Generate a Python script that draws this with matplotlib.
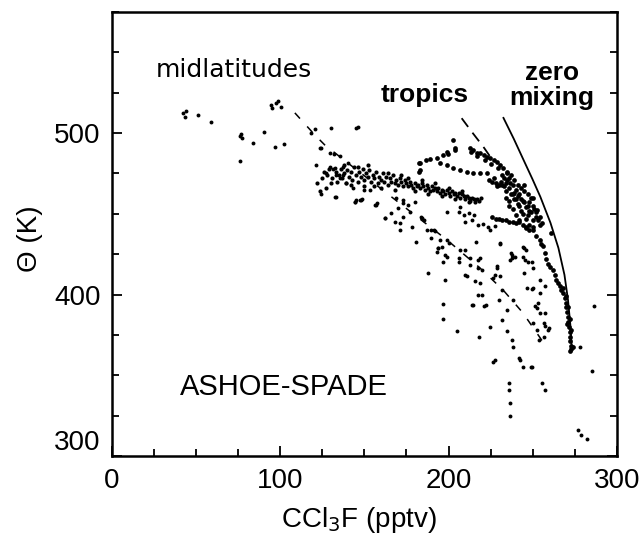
import matplotlib
matplotlib.use("Agg")
from matplotlib import pyplot as plt
from matplotlib.ticker import MultipleLocator

SANS = ['Liberation Sans', 'DejaVu Sans']

# zero mixing curve (solid)
zm_x = [232.6, 238.7, 244.5, 249.8, 254.5, 260.5, 265.2, 268.8, 270.9, 272.4, 273.2]
zm_y = [509.4, 496.5, 483.4, 471.5, 460.5, 444.4, 428.9, 412.2, 396.7, 380.0, 365.8]

# tropics reference (dashed)
tr_x = [207.8, 214.0, 220.6, 226.0]
tr_y = [509.2, 500.5, 491.6, 483.5]

# midlatitude reference (dashed)
ml_x = [108.8, 120.6, 126.5, 140.2, 160.0, 177.3, 199.0, 218.6, 232.3, 244.1, 257.2]
ml_y = [512.5, 498.9, 492.7, 481.5, 465.5, 451.4, 433.9, 416.5, 402.9, 388.7, 368.9]

# sparse midlatitude points, upper left
mid_x = [42.4, 43.4, 44.0, 51.3, 59.2, 76.5, 77.5, 77.0, 76.0, 83.9, 90.5, 96.8, 102.2,
         94.9, 97.8, 100.8, 95.5, 99.0, 121.0, 130.1, 145.3, 146.5, 118.6, 124.6, 129.5,
         132.0, 135.4, 121.6, 129.5, 127.5, 133.4, 123.8, 124.6, 133.1, 144.5, 148.3,
         157.2, 140.4, 137.5, 131.5, 132.8, 135.4, 137.4, 139.4, 143.4, 149.6, 153.6,
         157.6, 147.3, 144.4, 132.8, 144.8, 148.9, 162.2]
mid_y = [512.3, 510.2, 513.5, 511.2, 507.1, 498.0, 497.0, 499.5, 483.0, 493.7, 500.9, 491.2, 493.1,
         517.4, 518.5, 516.4, 515.5, 520.0, 502.4, 503.0, 503.0, 503.8, 500.0, 490.6, 487.5,
         487.0, 485.9, 480.3, 479.2, 475.2, 474.0, 490.6, 462.3, 460.7, 457.2, 458.6,
         455.5, 481.3, 478.7, 478.0, 478.2, 472.0, 474.0, 469.0, 465.9, 464.8, 464.8,
         456.6, 458.6, 457.6, 460.7, 458.6, 459.0, 447.3]

# dense midlatitude filament
band_x = [131, 133, 134, 135, 136, 137, 138, 139, 140, 141, 142, 143, 144, 145, 146, 147, 148,
          149, 150, 151, 152, 153, 154, 155, 156, 157, 158, 159, 160, 161, 162, 163, 164, 165,
          166, 167, 168, 169, 170, 171, 172, 173, 174, 175, 176, 177, 178, 179, 180, 181, 182,
          183, 184, 185, 186, 187, 188, 189, 190, 191, 192, 193, 194, 195, 196, 197, 198, 199,
          200, 201, 202, 203, 204, 205, 206, 207, 208, 209, 210, 211, 212, 213, 214, 215, 216,
          217, 138, 142, 146, 150, 152, 156, 160, 164, 168, 172, 176, 180, 184, 188, 192, 196,
          200, 204, 208, 212, 125, 127, 128, 130, 129, 126, 122, 124, 218, 219]
band_y = [472, 476, 470, 474, 478, 472, 475, 469, 477, 473, 476, 471, 479, 474, 470, 476, 473,
          478, 471, 475, 473, 477, 470, 474, 472, 476, 469, 473, 471, 475, 470, 473, 468, 472,
          470, 474, 469, 471, 468, 472, 470, 467, 471, 469, 467, 470, 468, 466, 469, 467, 468,
          466, 469, 467, 465, 468, 466, 464, 467, 465, 466, 464, 466, 463, 465, 464, 462, 465,
          463, 461, 464, 462, 463, 461, 463, 460, 462, 461, 459, 461, 460, 458, 460, 459, 457,
          459, 480, 468, 479, 467, 480, 467, 466, 475, 465, 474, 472, 464, 471, 462, 469, 461,
          466, 459, 464, 457, 472, 466, 474, 469, 478, 476, 469, 464, 458, 460]

# scattered points below the filament
low_x = [156.5, 170.1, 173.1, 176.2, 180.1, 177.3, 162.2, 168.4, 171.4, 173.1, 184.3, 171.4,
         178.3, 187.3, 192.2, 199.1, 207.0, 206.0, 209.0, 211.9, 214.9, 213.9, 210.0, 217.6,
         220.6, 223.5, 227.5, 224.5, 180.9, 189.8, 194.8, 198.8, 200.4, 193.8, 192.9, 197.8,
         196.8, 206.7, 206.3, 210.0, 212.7, 216.6, 218.6, 217.6, 219.6, 228.5, 230.5, 237.4,
         236.4, 212.7, 210.7, 215.6, 226.5, 227.5, 187.9, 197.8, 231.5, 217.6, 230.1, 238.4,
         196.8, 213.7, 221.0, 234.5, 196.8, 205.1, 224.5, 231.5, 234.5, 218.2, 237.4, 238.0,
         226.5, 242.6, 249.3, 244.3, 245.7, 244.3, 247.3, 250.3, 246.3, 249.3, 251.3, 250.3,
         252.3, 239.6, 245.5, 254.4, 254.4, 252.3, 254.4, 256.4, 257.4, 259.4, 256.4, 286.2,
         278.3, 235.6, 235.6, 236.2, 236.6, 249.2, 255.4, 257.4, 285.1, 276.9, 278.9, 282.0,
         244.0, 253.4, 259.2, 257.2, 253.0, 257.2, 250.2, 237.9, 237.3, 244.8, 230.8, 228.8,
         230.8, 244.8, 249.8, 217.5, 206.2, 218.5, 219.6, 214.4, 222.3, 210.0, 198.8, 196.0,
         193.6, 191.6, 189.6, 183.7, 173.1, 169.0, 185.7, 166.1, 241.8, 227.7]
low_y = [455.5, 453.5, 456.6, 455.5, 457.6, 451.4, 447.3, 445.2, 444.6, 448.3, 447.3, 440.1,
         442.1, 440.1, 439.6, 451.4, 454.5, 451.4, 449.3, 450.4, 449.3, 446.2, 445.2, 443.2,
         443.8, 442.1, 442.5, 440.1, 432.8, 434.9, 433.9, 433.9, 431.8, 428.7, 426.6, 424.6,
         420.4, 427.7, 420.4, 427.7, 422.5, 432.8, 422.5, 416.3, 415.3, 416.3, 431.8, 424.6,
         421.5, 418.4, 411.2, 408.1, 410.2, 412.2, 413.3, 409.1, 402.9, 399.8, 396.7, 396.7,
         394.3, 393.6, 392.6, 390.5, 384.8, 377.5, 379.8, 384.3, 377.1, 374.0, 372.0, 367.8,
         358.5, 359.6, 355.4, 429.7, 427.7, 423.5, 420.4, 416.3, 404.0, 403.3, 392.6, 382.3,
         378.2, 423.5, 421.5, 409.1, 400.9, 391.6, 388.5, 382.3, 380.2, 379.2, 374.0, 392.6,
         367.8, 345.2, 341.0, 332.8, 324.5, 355.4, 345.2, 341.0, 352.4, 316.2, 313.1, 310.5,
         355.4, 372.0, 378.2, 388.5, 394.7, 405.0, 404.0, 422.5, 425.6, 428.7, 431.6, 417.4,
         411.2, 413.3, 420.0, 421.5, 422.6, 407.0, 399.8, 393.6, 393.6, 412.2, 423.5, 429.7,
         428.7, 440.1, 440.1, 448.3, 458.6, 459.7, 446.2, 450.4, 360.6, 359.6]

# tropical points
trop_x = [183.0, 183.0, 186.5, 188.9, 192.9, 196.8, 199.8, 203.7, 202.7, 194.8, 198.8, 202.7,
          206.7, 210.7, 214.6, 218.6, 222.6, 198.8, 204.0, 182.5, 182.5,
          212.8, 214.8, 216.8, 218.8, 220.8, 222.8, 224.7, 226.7, 228.7, 230.6, 232.6, 234.6,
          235.6, 236.6, 213.5, 217.0, 221.5, 225.5, 229.5,
          231, 233, 234, 235, 236, 237, 238, 239, 240, 241, 242, 243, 244, 245, 246, 247, 248,
          249, 250, 251, 252, 236, 238, 240, 242, 244, 246, 248, 250, 245, 247, 249, 237, 239,
          241, 243, 234, 236, 238, 240, 242, 244, 246, 248, 250, 252, 253, 254, 233, 235, 232,
          239, 241, 243, 245, 247,
          224, 226, 228, 230, 232, 234, 227, 229,
          226, 228, 230, 232, 234, 236, 238, 240, 242,
          246, 248, 250, 252, 254, 255, 256, 257, 258, 259, 260, 262, 263, 264, 265, 266, 267,
          268, 269, 269.5, 270, 270.5, 271, 271.2, 271.5, 271.8, 272, 272.2, 272.5, 272.8,
          268, 270, 271, 272, 272.5, 270.5, 273.8, 272.2, 250.4, 252.4, 254.4, 255.5, 261.0]
trop_y = [481.3, 477.2, 483.4, 483.8, 484.4, 486.5, 486.9, 489.6, 495.8, 481.3, 480.3, 478.2,
          477.2, 476.1, 475.5, 475.5, 475.1, 488.5, 490.6, 481.3, 476.1,
          490.6, 489.6, 487.9, 487.5, 486.5, 485.4, 484.4, 483.3, 482.3, 480.2, 478.2, 475.1,
          472.0, 468.9, 488.0, 486.0, 483.5, 481.0, 478.5,
          470, 467, 464, 471, 466, 462, 468, 459, 465, 456, 462, 452, 458, 464, 454, 449, 457,
          451, 446, 453, 448, 458, 453, 449, 446, 443, 441, 443, 442, 468, 462, 460, 474, 471,
          468, 466, 460, 455, 462, 459, 455, 450, 447, 452, 455, 451, 446, 443, 472, 476, 474,
          463, 461, 459, 457, 455,
          471, 470, 469, 468, 468, 469, 472, 467,
          448, 447, 447, 446, 446, 445, 445, 444, 445,
          442, 440, 440, 436, 434, 431, 430, 426, 422, 419, 417, 415, 412, 409, 407, 405, 403,
          401, 398, 395, 392, 389, 386, 383, 380, 377, 374, 371, 368, 366,
          404, 399, 392, 385, 378, 382, 367.8, 365.0, 459.7, 452.4, 448.3, 444.0, 438.0]

fig = plt.figure(figsize=(6.42, 5.47), dpi=100)
ax = fig.add_axes([0.1737, 0.1664, 0.7874, 0.8117])

dot = dict(ls="none", marker="o", mew=0, color="k")
ax.plot(mid_x, mid_y, ms=2.8, **dot)
ax.plot(band_x, band_y, ms=3.0, **dot)
ax.plot(low_x, low_y, ms=2.8, **dot)
ax.plot(trop_x, trop_y, ms=3.4, **dot)

ax.plot(zm_x, zm_y, c="k", lw=1.3)
ax.plot(tr_x, tr_y, c="k", lw=1.3, dashes=(6, 4))
ax.plot(ml_x, ml_y, c="k", lw=1.1, dashes=(5, 7))

ax.text(72.8, 534.5, "midlatitudes", ha="center", va="baseline",
        fontsize=18, family="DejaVu Sans")
ax.text(186, 519.5, "tropics", ha="center", va="baseline",
        fontsize=19, weight="bold", family=SANS)
ax.text(261.5, 533, "zero", ha="center", va="baseline",
        fontsize=19, weight="bold", family=SANS)
ax.text(261.5, 517.4, "mixing", ha="center", va="baseline",
        fontsize=19, weight="bold", family=SANS)
ax.text(40.6, 337.9, "ASHOE-SPADE", ha="left", va="baseline",
        fontsize=21, family=SANS)

ax.set_xlim(0, 300)
ax.set_ylim(300, 575)
ax.set_xticks([0, 100, 200, 300])
ax.set_yticks([300, 400, 500])
ax.xaxis.set_minor_locator(MultipleLocator(25))
ax.yaxis.set_minor_locator(MultipleLocator(25))
ax.tick_params(which="both", direction="in", top=False, right=True, width=1.3)
ax.tick_params(which="major", length=7)
ax.tick_params(which="minor", length=5)
ax.tick_params(axis="y", pad=8)
ax.tick_params(axis="x", pad=9)
for lab in ax.get_xticklabels() + ax.get_yticklabels():
    lab.set_family(SANS)
    lab.set_fontsize(20)
ax.yaxis.get_major_ticks()[0].label1.set_verticalalignment("bottom")

for s in ax.spines.values():
    s.set_linewidth(1.8)

ax.set_xlabel("CCl$_3$F (pptv)", fontsize=20, family=SANS)
ax.set_ylabel("\u0398 (K)", fontsize=20, family=SANS)
ax.xaxis.set_label_coords(0.49, -0.145)
ax.xaxis.label.set_va("center")
ax.yaxis.set_label_coords(-0.161, 0.49)
ax.yaxis.label.set_va("center")

plt.savefig("out.png", dpi=100)
